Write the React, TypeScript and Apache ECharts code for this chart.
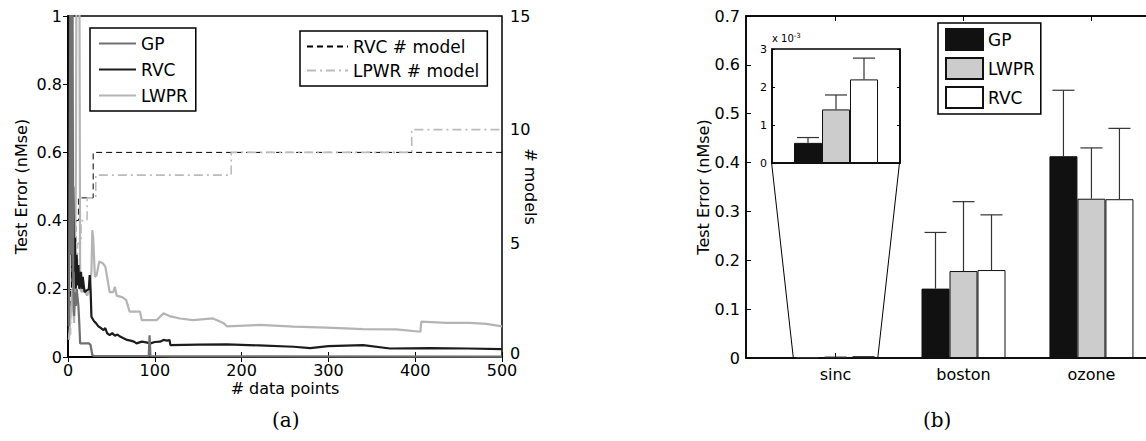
import React, { useEffect, useRef } from "react";
import * as echarts from "echarts";

// ---------- (a) learning curves: [# data points, nMse] ----------
const gpCurve: [number, number][] = [
  [1, 0.09], [2, 0.55], [3, 1.3], [4, 0.3], [5, 1.3], [6, 0.22], [7, 0.12], [8, 0.19], [9, 0.15], [10, 0.2],
  [12, 0.15], [13, 0.1], [14, 0.04], [24, 0.04], [26, 0.035], [28, 0.006], [30, 0.003], [93, 0.003], [94, 0.064],
  [95, 0.003], [120, 0.002], [500, 0.001],
];
const rvcCurve: [number, number][] = [
  [1, 0.12], [2, 1.3], [3, 0.3], [4, 1.3], [5, 0.22], [6, 0.5], [7, 0.25], [8, 0.35], [9, 0.2], [10, 0.3],
  [11, 0.21], [12, 0.27], [13, 0.2], [15, 0.25], [16, 0.2], [17, 0.235], [19, 0.19], [24, 0.2], [25, 0.24],
  [26, 0.2], [27, 0.118], [30, 0.105], [32, 0.1], [35, 0.09], [38, 0.085], [41, 0.079], [43, 0.085], [45, 0.07],
  [48, 0.064], [51, 0.07], [54, 0.062], [57, 0.066], [60, 0.06], [64, 0.055], [68, 0.05], [72, 0.048], [76, 0.045],
  [79, 0.04], [85, 0.045], [90, 0.043], [95, 0.04], [100, 0.044], [106, 0.045], [110, 0.05], [114, 0.048],
  [117, 0.05], [118, 0.035], [150, 0.036], [183, 0.037], [220, 0.034], [260, 0.03], [279, 0.026], [300, 0.032],
  [340, 0.035], [371, 0.025], [417, 0.026], [460, 0.025], [500, 0.023],
];
const lwprCurve: [number, number][] = [
  [1, 0.05], [3, 0.12], [5, 0.2], [7, 0.1], [9, 0.5], [10, 1.3], [13, 1.3], [14, 0.2], [16, 0.19], [18, 0.21],
  [20, 0.19], [22, 0.18], [25, 0.2], [27, 0.25], [28, 0.372], [29, 0.35], [31, 0.235], [33, 0.24], [36, 0.28],
  [40, 0.275], [43, 0.265], [48, 0.19], [52, 0.19], [54, 0.206], [56, 0.18], [63, 0.175], [67, 0.167], [71, 0.133],
  [83, 0.133], [85, 0.108], [102, 0.108], [110, 0.128], [117, 0.12], [129, 0.113], [144, 0.108], [167, 0.113],
  [179, 0.1], [183, 0.09], [221, 0.094], [260, 0.089], [298, 0.086], [340, 0.082], [378, 0.081], [406, 0.074],
  [407, 0.104], [436, 0.1], [463, 0.1], [482, 0.097], [500, 0.09],
];
// number of local models: [# data points at which count changes, count]
const rvcModels: [number, number][] = [
  [0, 1], [2, 2], [3, 3], [4, 4], [6, 5], [9, 6], [12, 7], [29, 9], [500, 9],
];
const lpwrModels: [number, number][] = [
  [0, 1], [3, 2], [5, 3], [8, 4], [11, 5], [15, 6], [22, 7], [32, 8], [188, 9], [396, 10], [500, 10],
];
const leftTicksA = [0, 0.2, 0.4, 0.6, 0.8, 1];
const rightLabelsA = [0, 5, 10, 15];

// ---------- (b) bar chart ----------
const datasets = ["sinc", "boston", "ozone"];
const methods = ["GP", "LWPR", "RVC"];
const gpMean = [0.00053, 0.142, 0.413];
const gpUpper = [0.00067, 0.257, 0.548];
const lwprMean = [0.00141, 0.178, 0.326];
const lwprUpper = [0.00179, 0.32, 0.43];
const rvcMean = [0.0022, 0.18, 0.325];
const rvcUpper = [0.00276, 0.293, 0.47];
const insetRange = [0.5, 1.5]; // sinc zoom window on the main x axis
const insetBottom = 0.4; // main-axis value at which the inset's bottom sits
const zoomSpan = [0.67, 1.33]; // extent of the sinc bar group on the main axis

const FONT = "'DejaVu Sans', sans-serif";
const BAR_W = 28;
const SUFFIX = " (b)";
const barColors = ["#111111", "#cccccc", "#ffffff"];
const means = [gpMean, lwprMean, rvcMean];
const uppers = [gpUpper, lwprUpper, rvcUpper];

export default function App() {
  const ref = useRef<HTMLDivElement>(null);
  useEffect(() => {
    if (!ref.current) return;
    const chart = echarts.init(ref.current, undefined, { renderer: "svg" });

    const axisLine = { show: true, lineStyle: { color: "#000", width: 1.5 } };
    const tickIn = { show: true, inside: true, length: 5, lineStyle: { color: "#000", width: 1 } };
    const lbl = { color: "#000", fontSize: 16, fontFamily: FONT };

    const errRender = (params: any, api: any) => {
      const x = api.value(0);
      const m = api.value(1);
      const u = api.value(2);
      const k = api.value(3);
      const p0 = api.coord([x, m]);
      const p1 = api.coord([x, u]);
      const cx = p0[0] + (k - 1) * BAR_W;
      return {
        type: "group",
        children: [
          { type: "line", shape: { x1: cx, y1: p0[1], x2: cx, y2: p1[1] }, style: { stroke: "#333", lineWidth: 1.2 } },
          { type: "line", shape: { x1: cx - 11, y1: p1[1], x2: cx + 11, y2: p1[1] }, style: { stroke: "#333", lineWidth: 1.2 } },
        ],
      };
    };

    const mainErr: number[][] = [];
    methods.forEach((_, k) => datasets.forEach((_, i) => mainErr.push([i + 1, means[k][i], uppers[k][i], k])));
    const insetErr: number[][] = methods.map((_, k) => [1, means[k][0], uppers[k][0], k]);

    const hiddenSymbol = { color: "transparent", borderColor: "transparent", borderWidth: 0, opacity: 0 };

    const option: any = {
      animation: false,
      backgroundColor: "#fff",
      grid: [
        { left: 68, top: 16, right: 644, bottom: 84, outerBoundsMode: "none", show: true, borderColor: "#000", borderWidth: 1.5, backgroundColor: "transparent" },
        { left: 746, top: 16, right: -35, bottom: 83, outerBoundsMode: "none", show: true, borderColor: "#000", borderWidth: 1.5, backgroundColor: "transparent" },
        { left: 772, top: 49, width: 128, height: 114, outerBoundsMode: "none", show: true, borderColor: "#000", borderWidth: 1.5, backgroundColor: "#fff" },
      ],
      xAxis: [
        {
          gridIndex: 0, type: "value", min: 0, max: 500, interval: 100, position: "bottom",
          axisLine, axisTick: tickIn, splitLine: { show: false },
          axisLabel: { ...lbl, margin: 5 },
          name: "# data points", nameLocation: "middle", nameGap: 23, nameMoveOverlap: false,
          nameTextStyle: { ...lbl },
        },
        {
          gridIndex: 0, type: "value", min: 0, max: 500, interval: 100, position: "top",
          axisLine, axisTick: tickIn, splitLine: { show: false }, axisLabel: { show: false },
        },
        {
          gridIndex: 1, type: "value", min: 0.3, max: 3.7, position: "bottom",
          axisLine, splitLine: { show: false },
          axisTick: { ...tickIn, customValues: [1, 2, 3] },
          axisLabel: { ...lbl, margin: 8, customValues: [1, 2, 3], formatter: (v: number) => datasets[Math.round(v) - 1] ?? "" },
        },
        {
          gridIndex: 1, type: "value", min: 0.3, max: 3.7, position: "top",
          axisLine, splitLine: { show: false },
          axisTick: { ...tickIn, customValues: [1, 2, 3] }, axisLabel: { show: false },
        },
        {
          gridIndex: 2, type: "value", min: insetRange[0], max: insetRange[1], position: "bottom",
          axisLine, axisTick: { show: false }, axisLabel: { show: false }, splitLine: { show: false },
        },
      ],
      yAxis: [
        {
          gridIndex: 0, type: "value", min: 0, max: 1, interval: 0.2, position: "left",
          axisLine, axisTick: tickIn, splitLine: { show: false },
          axisLabel: { ...lbl, margin: 6, customValues: leftTicksA, formatter: (v: number) => (v === 0 ? "0" : v === 1 ? "1" : v.toFixed(1)) },
          name: "Test Error (nMse)", nameLocation: "middle", nameGap: 39, nameMoveOverlap: false, nameTextStyle: { ...lbl },
        },
        {
          gridIndex: 0, type: "value", min: 0, max: 15, interval: 3, position: "right",
          axisLine, axisTick: tickIn, splitLine: { show: false }, axisLabel: { show: false },
        },
        {
          gridIndex: 0, type: "value", min: 0, max: 15, interval: 5, position: "right",
          axisLine: { show: false }, axisTick: { show: false }, splitLine: { show: false },
          axisLabel: {
            ...lbl, margin: 8, customValues: rightLabelsA,
            formatter: (v: number) => (v === 0 ? "{z|0}" : String(v)),
            rich: { z: { ...lbl, padding: [0, 0, 8, 0] } },
          },
          name: "# models", nameLocation: "middle", nameGap: 20, nameRotate: -90, nameMoveOverlap: false, nameTextStyle: { ...lbl },
        },
        {
          gridIndex: 1, type: "value", min: 0, max: 0.7, interval: 0.1, position: "left",
          axisLine, axisTick: tickIn, splitLine: { show: false },
          axisLabel: { ...lbl, margin: 6, formatter: (v: number) => (v === 0 ? "0" : v.toFixed(1)) },
          name: "Test Error (nMse)", nameLocation: "middle", nameGap: 35, nameMoveOverlap: false, nameTextStyle: { ...lbl },
        },
        {
          gridIndex: 2, type: "value", min: 0, max: 0.003, interval: 0.001, position: "left",
          axisLine, axisTick: { ...tickIn, length: 3 }, splitLine: { show: false },
          axisLabel: { color: "#000", fontSize: 11, fontFamily: FONT, margin: 5, formatter: (v: number) => String(Math.round(v * 1000)) },
          name: "{a|x 10}{b|-3}", nameLocation: "end", nameGap: 4,
          nameTextStyle: {
            align: "left", color: "#000",
            rich: { a: { fontSize: 10, fontFamily: FONT, color: "#000" }, b: { fontSize: 7, fontFamily: FONT, color: "#000", verticalAlign: "top", padding: [0, 0, 6, 0] } },
          },
        },
        {
          gridIndex: 2, type: "value", min: 0, max: 0.003, interval: 0.001, position: "right",
          axisLine, axisTick: { ...tickIn, length: 3 }, splitLine: { show: false }, axisLabel: { show: false },
        },
      ],
      legend: [
        {
          data: ["GP", "RVC", "LWPR"], left: 90, top: 28, orient: "vertical",
          itemWidth: 37, itemHeight: 20, itemGap: 9, padding: [7, 8, 7, 8],
          borderColor: "#000", borderWidth: 1.5, backgroundColor: "#fff",
          itemStyle: hiddenSymbol,
          textStyle: { ...lbl, fontSize: 17 }, selectedMode: false,
        },
        {
          data: ["RVC # model", "LPWR # model"], left: 300, top: 31, orient: "vertical",
          itemWidth: 41, itemHeight: 20, itemGap: 7, padding: [7, 8, 7, 6],
          borderColor: "#000", borderWidth: 1.5, backgroundColor: "#fff",
          itemStyle: hiddenSymbol,
          textStyle: { ...lbl, fontSize: 17 }, selectedMode: false,
        },
        {
          data: methods.map((m) => m + SUFFIX), left: 938, top: 23, orient: "vertical", icon: "rect",
          itemWidth: 37, itemHeight: 21, itemGap: 6, padding: [5, 6, 5, 7],
          borderColor: "#000", borderWidth: 1.5, backgroundColor: "#fff",
          formatter: (name: string) => name.replace(SUFFIX, ""),
          textStyle: { ...lbl, fontSize: 17 }, selectedMode: false,
        },
      ],
      series: [
        // (a)
        { name: "RVC # model", type: "line", xAxisIndex: 0, yAxisIndex: 1, step: "end", data: rvcModels, symbol: "none", lineStyle: { color: "#000", width: 1, type: [6, 4] }, itemStyle: { color: "#000" } },
        { name: "LPWR # model", type: "line", xAxisIndex: 0, yAxisIndex: 1, step: "end", data: lpwrModels, symbol: "none", lineStyle: { color: "#bbbbbb", width: 1.6, type: [9, 4, 2, 4] }, itemStyle: { color: "#bbbbbb" } },
        { name: "LWPR", type: "line", xAxisIndex: 0, yAxisIndex: 0, data: lwprCurve, symbol: "none", clip: true, lineStyle: { color: "#b4b4b4", width: 2.2 }, itemStyle: { color: "#b4b4b4" } },
        { name: "RVC", type: "line", xAxisIndex: 0, yAxisIndex: 0, data: rvcCurve, symbol: "none", clip: true, lineStyle: { color: "#1c1c1c", width: 2.2 }, itemStyle: { color: "#1c1c1c" } },
        { name: "GP", type: "line", xAxisIndex: 0, yAxisIndex: 0, data: gpCurve, symbol: "none", clip: true, lineStyle: { color: "#707070", width: 2.2 }, itemStyle: { color: "#707070" } },
        // (b) main bars
        ...methods.map((m, k) => ({
          name: m + SUFFIX, type: "bar", xAxisIndex: 2, yAxisIndex: 3, barWidth: BAR_W, barGap: "0%",
          data: datasets.map((_, i) => [i + 1, means[k][i]]),
          itemStyle: { color: barColors[k], borderColor: "#111", borderWidth: 1 },
        })),
        { type: "custom", xAxisIndex: 2, yAxisIndex: 3, renderItem: errRender, data: mainErr, silent: true, z: 3 },
        // zoom connectors
        { type: "line", xAxisIndex: 2, yAxisIndex: 3, symbol: "none", silent: true, data: [[insetRange[0], insetBottom], [zoomSpan[0], 0]], lineStyle: { color: "#000", width: 1 } },
        { type: "line", xAxisIndex: 2, yAxisIndex: 3, symbol: "none", silent: true, data: [[insetRange[1], insetBottom], [zoomSpan[1], 0]], lineStyle: { color: "#000", width: 1 } },
        // inset bars (sinc)
        ...methods.map((m, k) => ({
          name: m + SUFFIX, type: "bar", xAxisIndex: 4, yAxisIndex: 4, barWidth: BAR_W, barGap: "0%",
          data: [[1, means[k][0]]],
          itemStyle: { color: barColors[k], borderColor: "#111", borderWidth: 1 },
        })),
        { type: "custom", xAxisIndex: 4, yAxisIndex: 4, renderItem: errRender, data: insetErr, silent: true, z: 3 },
      ],
      graphic: [
        { type: "text", left: 272, top: 410, style: { text: "(a)", fontSize: 20, fontFamily: "'DejaVu Serif', serif", fill: "#000" } },
        { type: "text", left: 923, top: 410, style: { text: "(b)", fontSize: 20, fontFamily: "'DejaVu Serif', serif", fill: "#000" } },
      ],
    };
    chart.setOption(option);
    return () => chart.dispose();
  }, []);
  return (
    <div
      ref={ref}
      style={{ position: "absolute", left: 0, top: 0, width: 1146, height: 441, background: "#fff" }}
    />
  );
}
